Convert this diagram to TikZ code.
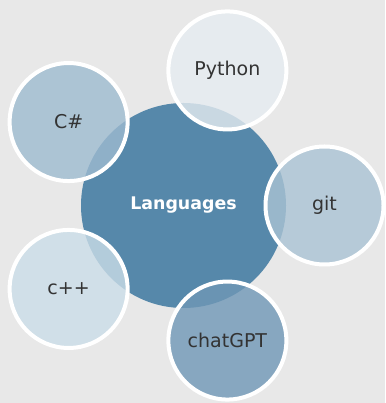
\documentclass[tikz,border=0pt]{standalone}
\usepackage{fontspec}
\setmainfont{DejaVu Sans}
\usetikzlibrary{calc}
\definecolor{bgc}{RGB}{232,232,232}
\definecolor{hubc}{RGB}{86,136,170}
\definecolor{pyc}{RGB}{230,236,241}
\definecolor{gitc}{RGB}{170,195,212}
\definecolor{gptc}{RGB}{111,151,182}
\definecolor{cppc}{RGB}{203,221,232}
\definecolor{csc}{RGB}{158,187,208}
\definecolor{txtc}{RGB}{51,51,51}
\tikzset{
  hub/.style={circle, inner sep=0pt, minimum size=205pt, fill=hubc, draw=none,
    text=white, font=\fontsize{17.4}{20}\selectfont\bfseries},
  sat/.style={circle, inner sep=0pt, minimum size=118pt, draw=white, line width=4pt,
    fill opacity=0.8, text opacity=1, text=txtc, font=\fontsize{19}{22}\selectfont}
}
\begin{document}
\begin{tikzpicture}[x=1pt,y=1pt]
\fill[bgc] (0,0) rectangle (385,403);
\useasboundingbox (0,0) rectangle (385,403);
\node[hub] (hub) at (183.5,197.5) {Languages};
\node[sat, fill=pyc] (py) at ($(hub)+(72:142)$) {Python};
\node[sat, fill=gitc] (git) at ($(hub)+(0:141)$) {git};
\node[sat, fill=gptc] (gpt) at ($(hub)+(-72:142)$) {chatGPT};
\node[sat, fill=cppc] (cpp) at ($(hub)+(-144:142)$) {c++};
\node[sat, fill=csc] (cs) at ($(hub)+(144:142)$) {C\#};
\end{tikzpicture}
\end{document}
